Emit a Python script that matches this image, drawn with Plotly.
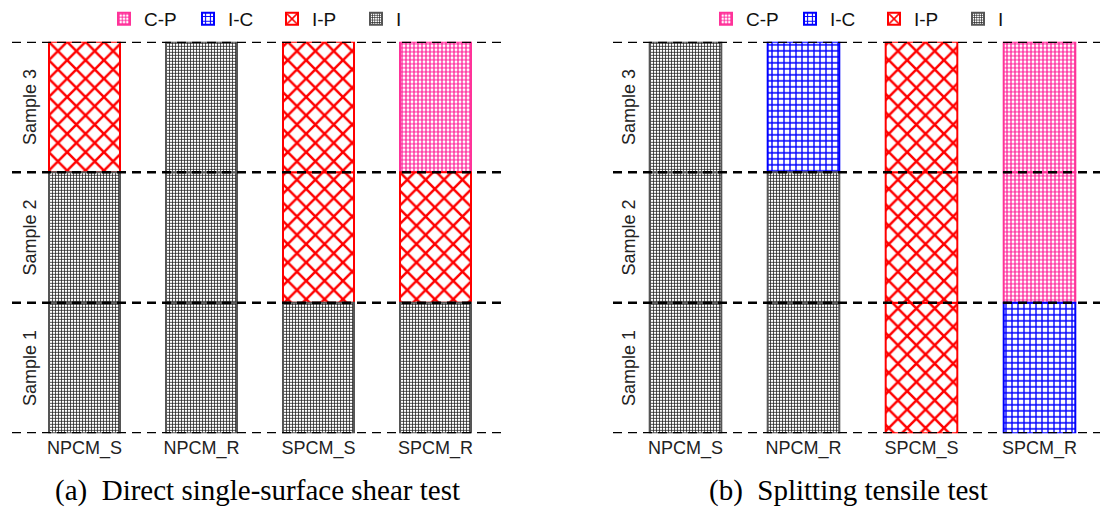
import plotly.graph_objects as go

# Failure-mode categories and the specimens tested
categories = ["NPCM_S", "NPCM_R", "SPCM_S", "SPCM_R"]
samples = ["Sample 1", "Sample 2", "Sample 3"]
mode_order = ["C-P", "I-C", "I-P", "I"]

# Failure mode of each sample (Sample 1, 2, 3) per specimen type
shear_modes = [
    ["I", "I", "I-P"],      # NPCM_S
    ["I", "I", "I"],        # NPCM_R
    ["I", "I-P", "I-P"],    # SPCM_S
    ["I", "I-P", "C-P"],    # SPCM_R
]
splitting_modes = [
    ["I", "I", "I"],        # NPCM_S
    ["I", "I", "I-C"],      # NPCM_R
    ["I-P", "I-P", "I-P"],  # SPCM_S
    ["I-C", "C-P", "C-P"],  # SPCM_R
]

captions = ["(a)&nbsp;&nbsp;Direct single-surface shear test",
            "(b)&nbsp;&nbsp;Splitting tensile test"]

# Hatch style for every failure mode
styles = {
    "C-P": dict(shape="+", fg="#ff1493", line="#ff3399", size=4, solidity=0.5),
    "I-C": dict(shape="+", fg="#0000ff", line="#0000ff", size=6, solidity=0.4),
    "I-P": dict(shape="x", fg="#ff0000", line="#ff0000", size=13, solidity=0.35),
    "I":   dict(shape="+", fg="#222222", line="#555555", size=3, solidity=0.45),
}

W, H = 1102, 510
panels = [
    dict(modes=shear_modes, xa="x", ya="y", legend="legend",
         px=(12, 502), centre0=84.5, step=117.0, label_x=30, cap_x=257),
    dict(modes=splitting_modes, xa="x2", ya="y2", legend="legend2",
         px=(613, 1100), centre0=685.5, step=118.0, label_x=629, cap_x=848),
]
y_top_px, y_bot_px = 40, 433
label_font = dict(family="Liberation Sans, Arial", size=18, color="#222222")

fig = go.Figure()

for p in panels:
    for mode in mode_order:
        st = styles[mode]
        xs, bases, ys = [], [], []
        for ci, cat in enumerate(categories):
            for si, m in enumerate(p["modes"][ci]):
                if m == mode:
                    xs.append(cat)
                    bases.append(si)
                    ys.append(1)
        if not xs:
            xs, bases, ys = [categories[0]], [0], [None]
        fig.add_trace(go.Bar(
            x=xs, y=ys, base=bases, name=mode,
            xaxis=p["xa"], yaxis=p["ya"], legend=p["legend"],
            width=0.607,
            marker=dict(
                color="white",
                line=dict(color=st["line"], width=2),
                pattern=dict(shape=st["shape"], fgcolor=st["fg"], bgcolor="white",
                             size=st["size"], solidity=st["solidity"],
                             fillmode="overlay", fgopacity=1),
            ),
            showlegend=True,
        ))

layout_axes = {}
for i, p in enumerate(panels):
    suffix = "" if i == 0 else "2"
    x0, x1 = p["px"]
    lo = (x0 - p["centre0"]) / p["step"]
    hi = (x1 - p["centre0"]) / p["step"]
    layout_axes["xaxis" + suffix] = dict(
        domain=[x0 / W, x1 / W], anchor="y" + suffix, type="category",
        categoryorder="array", categoryarray=categories, range=[lo, hi],
        showgrid=False, zeroline=False, showline=False, ticks="",
        tickfont=label_font, ticklabelstandoff=2,
    )
    layout_axes["yaxis" + suffix] = dict(
        domain=[1 - y_bot_px / H, 1 - y_top_px / H], anchor="x" + suffix,
        range=[0, 3], showgrid=False, zeroline=False, showline=False,
        showticklabels=False, ticks="",
    )

fig.update_layout(**layout_axes)

shapes, annotations = [], []
for i, p in enumerate(panels):
    suffix = "" if i == 0 else "2"
    # dashed separators between samples
    for yv in range(len(samples) + 1):
        shapes.append(dict(
            type="line", xref=("x" + suffix) + " domain", yref="y" + suffix,
            x0=0, x1=1, y0=yv, y1=yv, layer="above",
            line=dict(color="black", width=2.5, dash="9px,6px"),
        ))
    # sample labels
    for si, s in enumerate(samples):
        annotations.append(dict(
            text=s, xref="paper", yref="y" + suffix,
            x=p["label_x"] / W, y=si + 0.5, xanchor="center", yanchor="middle",
            showarrow=False, textangle=-90, font=label_font,
        ))
    annotations.append(dict(
        text=captions[i], xref="paper", yref="paper",
        x=p["cap_x"] / W, y=1 - 490 / H, xanchor="center", yanchor="middle",
        showarrow=False,
        font=dict(family="Liberation Serif, Times New Roman", size=29, color="black"),
    ))

legend_common = dict(
    orientation="h", yanchor="middle", xanchor="left",
    font=dict(family="Liberation Sans, Arial", size=19, color="#111111"),
    bgcolor="rgba(0,0,0,0)", traceorder="normal",
    entrywidth=39, entrywidthmode="pixels",
)

fig.update_layout(
    width=W, height=H,
    margin=dict(l=0, r=0, t=0, b=0),
    paper_bgcolor="white", plot_bgcolor="white",
    barmode="overlay",
    shapes=shapes, annotations=annotations,
    legend=dict(x=104 / W, y=1 - 17 / H, **legend_common),
    legend2=dict(x=706 / W, y=1 - 17 / H, **legend_common),
)

fig.write_html("out.html")
